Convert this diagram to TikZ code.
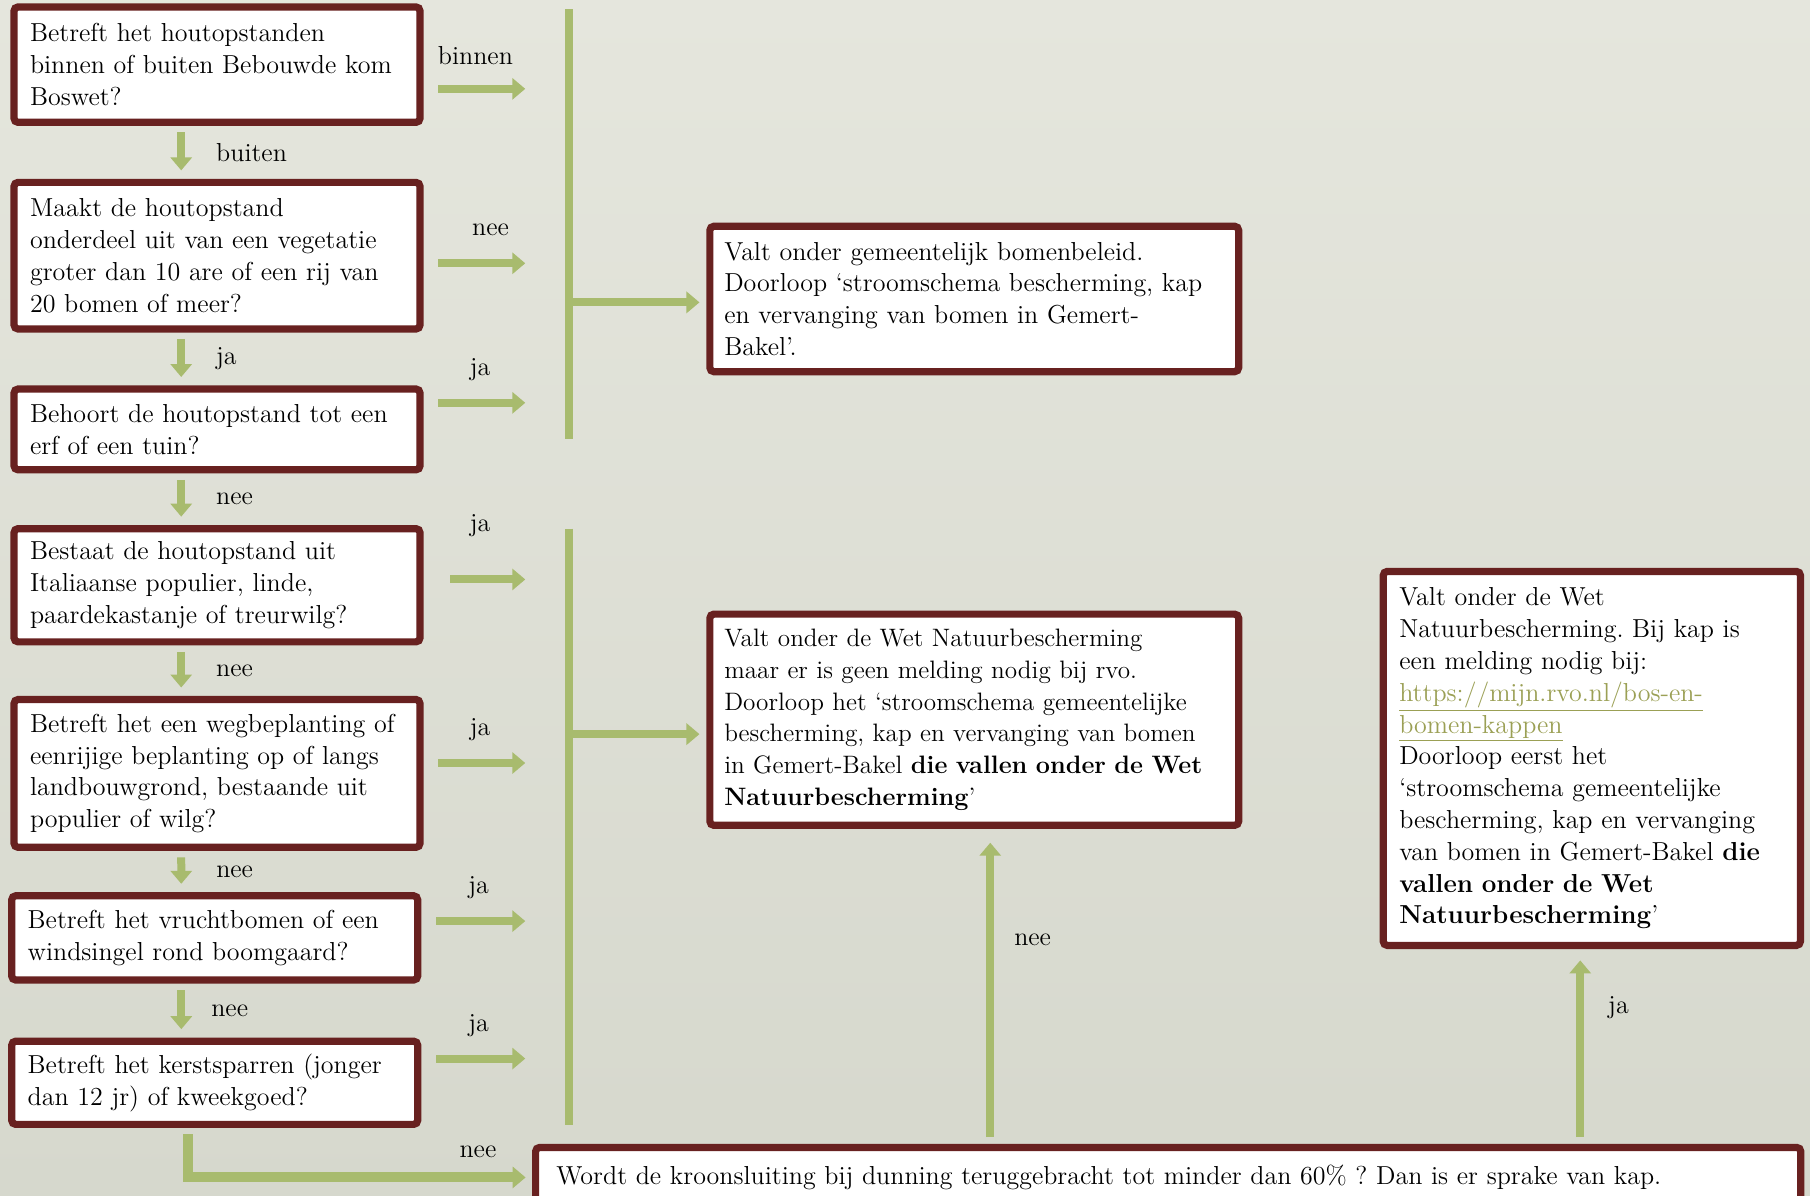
\documentclass[tikz,border=0pt]{standalone}
\usepackage{fontspec}
\usetikzlibrary{arrows.meta}

\definecolor{boxred}{RGB}{104,33,32}
\definecolor{leaf}{RGB}{168,187,110}
\definecolor{papertop}{RGB}{229,230,221}
\definecolor{paperbottom}{RGB}{214,216,205}
\definecolor{linkgreen}{RGB}{155,160,85}
\frenchspacing

\begin{document}
\begin{tikzpicture}[
    % one unit = one pixel of the 1568 wide sketch
    x = 0.5772pt, y = -0.5772pt,
    > = {Triangle[length=6.5pt, width=10.5pt]},
    txt/.style = {font = \fontsize{13}{15.9}\selectfont},
    qbox/.style = {txt, draw = boxred, line width = 3.6pt, fill = white,
      rounded corners = 2pt, inner xsep = 8pt, inner ysep = 0pt,
      outer sep = 0pt, align = left},
    lbl/.style = {txt, inner sep = 0pt},
    flow/.style = {draw = leaf, line width = 4pt, ->},
    bar/.style = {draw = leaf, line width = 3.6pt},
    ]

    \useasboundingbox (0,0) rectangle (1568,1036);
    \shade[top color = papertop, bottom color = paperbottom] (0,0) rectangle (1568,1036);

    % the questions, left column
    \node[qbox, text width = 187pt, minimum height = 57.7pt] (q1) at (188,56)
        {Betreft het houtopstanden\\ binnen of buiten Bebouwde kom\\ Boswet?};
    \node[qbox, text width = 187pt, minimum height = 73.3pt] (q2) at (188,221.5)
        {Maakt de houtopstand\\ onderdeel uit van een vegetatie\\ groter dan 10 are of een rij van\\ 20 bomen of meer?};
    \node[qbox, text width = 187pt, minimum height = 40.4pt] (q3) at (188,372)
        {Behoort de houtopstand tot een\\ erf of een tuin?};
    \node[qbox, text width = 187pt, minimum height = 56.6pt] (q4) at (188,507)
        {Bestaat de houtopstand uit\\ Italiaanse populier, linde,\\ paardekastanje of treurwilg?};
    \node[qbox, text width = 187pt, minimum height = 73.9pt] (q5) at (188,670)
        {Betreft het een wegbeplanting of\\ eenrijige beplanting op of langs\\ landbouwgrond, bestaande uit\\ populier of wilg?};
    \node[qbox, text width = 187pt, minimum height = 42.1pt] (q6) at (186,812.5)
        {Betreft het vruchtbomen of een\\ windsingel rond boomgaard?};
    \node[qbox, text width = 187pt, minimum height = 41.6pt] (q7) at (186,938)
        {Betreft het kerstsparren (jonger\\ dan 12 jr) of kweekgoed?};

    % the outcomes
    \node[qbox, inner xsep = 7.2pt, text width = 250pt, minimum height = 72.7pt] (gemeente) at (844,259)
        {Valt onder gemeentelijk bomenbeleid.\\ Doorloop `stroomschema bescherming, kap\\ en vervanging van bomen in Gemert-\\ Bakel'.};
    \node[qbox, font = \fontsize{12.6}{15.9}\selectfont, inner xsep = 7.2pt, text width = 250pt, minimum height = 105.6pt] (wnb) at (844,623.5)
        {Valt onder de Wet Natuurbescherming\\ maar er is geen melding nodig bij rvo.\\ Doorloop het `stroomschema gemeentelijke\\ bescherming, kap en vervanging van bomen\\ in Gemert-Bakel \textbf{die vallen onder de Wet}\\ \textbf{Natuurbescherming}'};
    \node[qbox, text width = 192.6pt, minimum height = 187pt] (melding) at (1379,657)
        {Valt onder de Wet\\ Natuurbescherming. Bij kap is\\ een melding nodig bij:\\
         {\color{linkgreen}\underline{https://mijn.rvo.nl/bos-en-}}\\
         {\color{linkgreen}\underline{bomen-kappen}}\\
         Doorloop eerst het\\ `stroomschema gemeentelijke\\ bescherming, kap en vervanging\\ van bomen in Gemert-Bakel \textbf{die}\\ \textbf{vallen onder de Wet}\\ \textbf{Natuurbescherming}'};
    \node[qbox, inner xsep = 10.4pt, text width = 611.8pt, minimum height = 30pt] (kroon) at (1012,1020)
        {Wordt de kroonsluiting bij dunning teruggebracht tot minder dan 60\% ? Dan is er sprake van kap.};

    % the two collecting bars
    \coordinate (bar1top) at (493,8);
    \coordinate (bar1bot) at (493,380);
    \coordinate (bar2top) at (493,458);
    \coordinate (bar2bot) at (493,975);
    \draw[bar] (bar1top) -- (bar1bot);
    \draw[bar] (bar2top) -- (bar2bot);

    % down the column
    \draw[flow, shorten <=5pt, shorten >=6pt] ([xshift=-17.9pt]q1.south) -- ([xshift=-17.9pt]q2.north) node[lbl, midway, right=15.5pt] {buiten};
    \draw[flow, shorten <=5pt, shorten >=6pt] ([xshift=-17.9pt]q2.south) -- ([xshift=-17.9pt]q3.north) node[lbl, midway, right=15.5pt] {ja};
    \draw[flow, shorten <=5pt, shorten >=6pt] ([xshift=-17.9pt]q3.south) -- ([xshift=-17.9pt]q4.north) node[lbl, midway, right=15.5pt] {nee};
    \draw[flow, shorten <=5pt, shorten >=6pt] ([xshift=-17.9pt]q4.south) -- ([xshift=-17.9pt]q5.north) node[lbl, midway, right=15.5pt] {nee};
    \draw[flow, shorten <=5pt, shorten >=6pt] ([xshift=-17.9pt]q5.south) -- ([xshift=-16.7pt]q6.north) node[lbl, midway, right=15.5pt] {nee};
    \draw[flow, shorten <=5pt, shorten >=6pt] ([xshift=-16.7pt]q6.south) -- ([xshift=-16.7pt]q7.north) node[lbl, midway, right=13pt] {nee};

    % sideways, towards the bars
    \coordinate (s1) at ([yshift=-12.1pt]q1.east);
    \coordinate (s2) at ([yshift=-3.8pt]q2.east);
    \coordinate (s3) at ([yshift=13.3pt]q3.east);
    \coordinate (s4) at ([yshift=2.9pt]q4.east);
    \coordinate (s5) at ([yshift=5.2pt]q5.east);
    \coordinate (s6) at ([yshift=8.4pt]q6.east);
    \coordinate (s7) at ([yshift=12.1pt]q7.east);
    \draw[flow, shorten <=9.2pt, shorten >=21.9pt] (s1) -- (s1 -| bar1top) node[lbl, pos=0.372, yshift=16.7pt] {binnen};
    \draw[flow, shorten <=9.2pt, shorten >=21.9pt] (s2) -- (s2 -| bar1top) node[lbl, pos=0.473, yshift=16.7pt] {nee};
    \draw[flow, shorten <=9.2pt, shorten >=21.9pt] (s3) -- (s3 -| bar1top) node[lbl, pos=0.403, yshift=16.7pt] {ja};
    \draw[flow, shorten <=15pt, shorten >=21.9pt] (s4) -- (s4 -| bar2top) node[lbl, pos=0.403, yshift=27pt] {ja};
    \draw[flow, shorten <=9.2pt, shorten >=21.9pt] (s5) -- (s5 -| bar2top) node[lbl, pos=0.403, yshift=16.7pt] {ja};
    \draw[flow, shorten <=9.2pt, shorten >=21.9pt] (s6) -- (s6 -| bar2top) node[lbl, pos=0.403, yshift=16.7pt] {ja};
    \draw[flow, shorten <=9.2pt, shorten >=21.9pt] (s7) -- (s7 -| bar2top) node[lbl, pos=0.403, yshift=16.7pt] {ja};

    % from the bars to the outcomes
    \coordinate (b1) at ([yshift=-1.7pt]gemeente.west);
    \coordinate (b2) at ([yshift=-7.2pt]wnb.west);
    \draw[flow, shorten >=5.2pt] (b1 -| bar1top) -- (b1);
    \draw[flow, shorten >=5.2pt] (b2 -| bar2top) -- (b2);

    % last question down to the crown closure box
    \draw[flow, line width = 5pt, shorten <=5pt, shorten >=5pt] ([xshift=-13.3pt]q7.south) |- (kroon.west)
        node[lbl, pos=0.917, yshift=12.7pt] {nee};

    % and up again
    \coordinate (u1) at ([xshift=8pt]wnb.south);
    \coordinate (u2) at ([xshift=-5.8pt]melding.south);
    \draw[flow, shorten <=5.2pt, shorten >=8.7pt] (u1 |- kroon.north) -- (u1) node[lbl, pos=0.645, right=10pt] {nee};
    \draw[flow, shorten <=5.2pt, shorten >=7.5pt] (u2 |- kroon.north) -- (u2) node[lbl, pos=0.69, right=12pt] {ja};

\end{tikzpicture}
\end{document}
